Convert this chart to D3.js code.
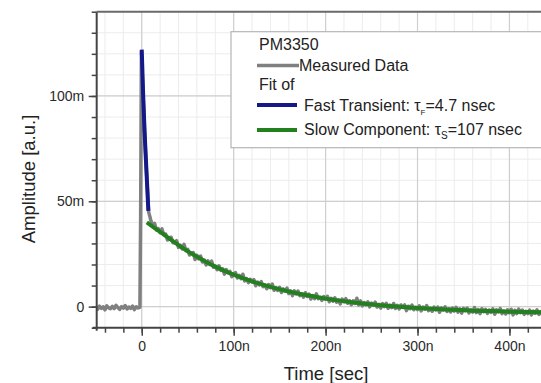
<!DOCTYPE html>
<html>
<head>
<meta charset="utf-8">
<script src="https://cdn.jsdelivr.net/npm/d3@7"></script>
<style>
  body { margin: 0; background: #fff; }
  svg { display: block; font-family: "Liberation Sans", Arial, sans-serif; }
</style>
</head>
<body>
<div id="chart"></div>
<script>
// 量測資料 (時間單位 n, 振幅單位 m)
const preTime = d3.range(-50, -1, 2);
const preAmp = [-0.3, -1.2, 0.2, -0.8, -0.1, -1.5, 0.4, -0.6, -1.0, 0.1, -0.9, 0.6, -0.4,
  -1.3, 0.0, -0.7, 0.5, -1.1, -0.2, -0.8, 0.3, -1.4, -0.1, -0.6, -0.3];

// 上升沿與快速衰減 (大部分被藍線蓋住)
const riseTime = [-1.2, -0.4, 1.5, 3, 4.5, 6, 7.5, 9];
const riseAmp = [43, 121, 100, 84, 70, 57, 45, 42.5];

const decayTime = d3.range(10, 441, 2);
const decayAmp = [
  40.7, 38.4, 39.5, 36.4, 37.0, 35.1, 36.9, 34.1, 34.5, 31.6,
  32.7, 32.9, 30.3, 30.3, 31.3, 28.1, 29.1, 27.4, 29.6, 26.6,
  27.2, 24.5, 25.3, 25.7, 22.4, 24.3, 22.7, 24.0, 21.2, 22.1,
  19.8, 21.7, 20.0, 21.6, 18.7, 19.2, 17.5, 19.4, 17.2, 17.9,
  15.4, 17.6, 16.1, 16.7, 14.2, 15.5, 16.2, 13.6, 14.8, 13.3,
  15.4, 12.2, 13.3, 11.4, 13.0, 11.7, 12.8, 9.9, 11.7, 10.3,
  11.9, 9.5, 10.3, 8.5, 10.5, 9.0, 10.7, 7.8, 9.0, 7.7,
  9.2, 6.7, 8.4, 7.4, 8.8, 6.2, 7.5, 5.2, 7.5, 6.0,
  7.4, 5.2, 6.1, 4.5, 6.6, 4.8, 5.9, 3.6, 5.3, 3.8,
  6.1, 3.8, 4.4, 3.0, 4.8, 3.5, 4.9, 2.3, 4.0, 2.6,
  4.2, 2.1, 3.2, 1.3, 3.6, 2.4, 3.8, 1.6, 2.8, 0.9,
  2.7, 1.5, 4.0, 0.8, 2.7, 0.4, 1.9, 0.8, 2.3, -0.1,
  1.7, 0.7, 2.1, -0.2, 1.1, -0.7, 1.4, 0.0, 1.6, -0.8,
  0.7, -0.5, 1.5, -0.8, 0.6, -1.1, 0.8, -0.4, 0.8, -1.9,
  0.2, -1.0, 0.7, -1.5, -0.3, -1.4, 0.4, -2.0, -0.2, -1.2,
  0.5, -1.9, -0.8, -2.2, -0.2, -1.6, -0.2, -2.7, -0.6, -1.6,
  -0.1, -2.3, -1.0, -2.5, -0.7, -2.1, -0.3, -2.6, -1.1, -3.1,
  -0.8, -1.9, -0.7, -3.0, -1.5, -2.6, -0.4, -2.8, -1.4, -3.3,
  -1.0, -2.4, -1.3, -3.2, -1.6, -2.7, -1.0, -3.6, -1.5, -2.5,
  -0.9, -3.3, -2.1, -3.5, -1.5, -2.9, -1.3, -3.9, -1.8, -3.3,
  -1.2, -2.9, -1.6, -3.7, -2.2, -3.3, -1.6, -3.9, -2.1, -3.2,
  -1.5, -3.7, -2.4, -3.6, -1.9, -3.1
];

// 擬合曲線
const fastTime = [0, 1.5, 3, 4.5, 6, 7.2];
const fastAmp = [122, 101, 84, 70, 56.5, 45.5];

const slowTime = [5.5, 10, 20, 30, 40, 50, 60, 70, 80, 90, 100, 120, 140, 160, 180, 200,
  220, 240, 260, 280, 300, 320, 340, 360, 380, 400, 420, 440, 460];
const slowAmp = [40, 38.6, 35.5, 32.3, 29.2, 26.3, 23.7, 21.2, 19.0, 17.0, 15.2, 12.0, 9.4,
  7.2, 5.4, 3.8, 2.6, 1.5, 0.7, 0.0, -0.6, -1.1, -1.5, -1.9, -2.1, -2.4, -2.6, -2.7, -2.8];

// 刻度
const xMajorTicks = [0, 100, 200, 300, 400];
const xMinorTicks = d3.range(-40, 460, 20);
const yMajorTicks = [0, 50, 100];
const yMinorTicks = d3.range(-10, 141, 10);

// 圖例
const legendTitle = "PM3350";
const legendSub = "Fit of";
const legendColors = ["#808080", "#14198a", "#22801f"];

const width = 541, height = 383;
const plot = { left: 96.7, top: 11.7, bottom: 327.7, right: 560 };
const labelFont = 14, legendFont = 16;

const svg = d3.select("#chart").append("svg")
  .attr("width", width).attr("height", height);

const x = d3.scaleLinear().domain([-49, 455]).range([plot.left, plot.right]);
const y = d3.scaleLinear().domain([-10, 140]).range([plot.bottom, plot.top]);

svg.append("clipPath").attr("id", "clip")
  .append("rect")
  .attr("x", plot.left).attr("y", plot.top)
  .attr("width", plot.right - plot.left).attr("height", plot.bottom - plot.top);

// 網格線
const grid = svg.append("g");
grid.selectAll(".vmin").data(xMinorTicks).enter().append("line")
  .attr("x1", d => x(d)).attr("x2", d => x(d))
  .attr("y1", plot.top).attr("y2", plot.bottom)
  .attr("stroke", "#ececec").attr("stroke-width", 1);
grid.selectAll(".hmin").data(yMinorTicks).enter().append("line")
  .attr("x1", plot.left).attr("x2", plot.right)
  .attr("y1", d => y(d)).attr("y2", d => y(d))
  .attr("stroke", "#ececec").attr("stroke-width", 1);
grid.selectAll(".vmaj").data(xMajorTicks).enter().append("line")
  .attr("x1", d => x(d)).attr("x2", d => x(d))
  .attr("y1", plot.top).attr("y2", plot.bottom)
  .attr("stroke", "#cfcfcf").attr("stroke-width", 1.2);
grid.selectAll(".hmaj").data(yMajorTicks).enter().append("line")
  .attr("x1", plot.left).attr("x2", plot.right)
  .attr("y1", d => y(d)).attr("y2", d => y(d))
  .attr("stroke", "#cfcfcf").attr("stroke-width", 1.2);

// 曲線
const line = d3.line().x(d => x(d[0])).y(d => y(d[1]));
const smooth = d3.line().x(d => x(d[0])).y(d => y(d[1])).curve(d3.curveMonotoneX);

const measured = []
  .concat(preTime.map((t, i) => [t, preAmp[i]]))
  .concat(riseTime.map((t, i) => [t, riseAmp[i]]))
  .concat(decayTime.map((t, i) => [t, decayAmp[i]]));

const plotArea = svg.append("g").attr("clip-path", "url(#clip)");
plotArea.append("path")
  .datum(measured)
  .attr("d", line)
  .attr("fill", "none")
  .attr("stroke", legendColors[0])
  .attr("stroke-width", 3.5)
  .attr("stroke-linejoin", "round");

plotArea.append("path")
  .datum(slowTime.map((t, i) => [t, slowAmp[i]]))
  .attr("d", smooth)
  .attr("fill", "none")
  .attr("stroke", legendColors[2])
  .attr("stroke-width", 4);

plotArea.append("path")
  .datum(fastTime.map((t, i) => [t, fastAmp[i]]))
  .attr("d", smooth)
  .attr("fill", "none")
  .attr("stroke", legendColors[1])
  .attr("stroke-width", 4);

// 座標軸
const fmtX = d => d === 0 ? "0" : d + "n";
const fmtY = d => d === 0 ? "0" : d + "m";

svg.append("g")
  .attr("transform", `translate(0,${plot.bottom})`)
  .call(d3.axisBottom(x).tickValues(xMinorTicks).tickSize(5).tickFormat(""))
  .call(g => g.select(".domain").remove())
  .selectAll("line").attr("stroke", "#444").attr("stroke-width", 1.5);

svg.append("g")
  .attr("transform", `translate(${plot.left},0)`)
  .call(d3.axisLeft(y).tickValues(yMinorTicks).tickSize(5).tickFormat(""))
  .call(g => g.select(".domain").remove())
  .selectAll("line").attr("stroke", "#444").attr("stroke-width", 1.5);

const xAxis = svg.append("g")
  .attr("transform", `translate(0,${plot.bottom})`)
  .call(d3.axisBottom(x).tickValues(xMajorTicks).tickSize(8).tickPadding(5.5).tickSizeOuter(0).tickFormat(fmtX));
xAxis.select(".domain").attr("stroke", "#444").attr("stroke-width", 2)
  .attr("d", `M${plot.left - 4},0H${plot.right}`);
xAxis.selectAll(".tick line").attr("stroke", "#444").attr("stroke-width", 1.5);
xAxis.selectAll("text").attr("font-size", labelFont).attr("fill", "#2a2a2a")
  .attr("font-family", "'Liberation Sans', Arial, sans-serif");

const yAxis = svg.append("g")
  .attr("transform", `translate(${plot.left},0)`)
  .call(d3.axisLeft(y).tickValues(yMajorTicks).tickSize(8).tickPadding(4.5).tickSizeOuter(0).tickFormat(fmtY));
yAxis.select(".domain").attr("stroke", "#444").attr("stroke-width", 2)
  .attr("d", `M0,${plot.top}V${plot.bottom + 3}`);
yAxis.selectAll(".tick line").attr("stroke", "#444").attr("stroke-width", 1.5);
yAxis.selectAll("text").attr("font-size", labelFont).attr("fill", "#2a2a2a")
  .attr("font-family", "'Liberation Sans', Arial, sans-serif");

// 上框線
svg.append("line")
  .attr("x1", plot.left).attr("x2", plot.right)
  .attr("y1", plot.top).attr("y2", plot.top)
  .attr("stroke", "#6a6a6a").attr("stroke-width", 2);

// 軸標題
svg.append("text")
  .attr("x", 326).attr("y", 380)
  .attr("text-anchor", "middle")
  .attr("font-size", 18.5).attr("fill", "#222")
  .text("Time [sec]");

svg.append("text")
  .attr("transform", "translate(35,179) rotate(-90)")
  .attr("text-anchor", "middle")
  .attr("font-size", 18.5).attr("fill", "#222")
  .text("Amplitude [a.u.]");

// 圖例
const legend = svg.append("g");
legend.append("rect")
  .attr("x", 231).attr("y", 31.7).attr("width", 330).attr("height", 116)
  .attr("fill", "#fff").attr("stroke", "#b5b5b5").attr("stroke-width", 1.2);

legend.append("text").attr("x", 259).attr("y", 49.5)
  .attr("font-size", legendFont).attr("fill", "#222").text(legendTitle);

legend.append("line").attr("x1", 257).attr("x2", 299).attr("y1", 65.5).attr("y2", 65.5)
  .attr("stroke", legendColors[0]).attr("stroke-width", 3.5);
legend.append("text").attr("x", 299).attr("y", 70.5)
  .attr("font-size", legendFont).attr("fill", "#222").text("Measured Data");

legend.append("text").attr("x", 259).attr("y", 89.5)
  .attr("font-size", legendFont).attr("fill", "#222").text(legendSub);

legend.append("line").attr("x1", 257).attr("x2", 297).attr("y1", 105).attr("y2", 105)
  .attr("stroke", legendColors[1]).attr("stroke-width", 4);
const t1 = legend.append("text").attr("x", 304).attr("y", 111)
  .attr("font-size", legendFont).attr("fill", "#222");
t1.append("tspan").text("Fast Transient: τ");
t1.append("tspan").attr("font-size", 8).attr("dy", 4).text("F");
t1.append("tspan").attr("dy", -4).text("=4.7 nsec");

legend.append("line").attr("x1", 257).attr("x2", 297).attr("y1", 130).attr("y2", 130)
  .attr("stroke", legendColors[2]).attr("stroke-width", 4);
const t2 = legend.append("text").attr("x", 304).attr("y", 134.5)
  .attr("font-size", legendFont).attr("fill", "#222");
t2.append("tspan").text("Slow Component: τ");
t2.append("tspan").attr("font-size", 10).attr("dy", 4).text("S");
t2.append("tspan").attr("dy", -4).text("=107 nsec");
</script>
</body>
</html>
